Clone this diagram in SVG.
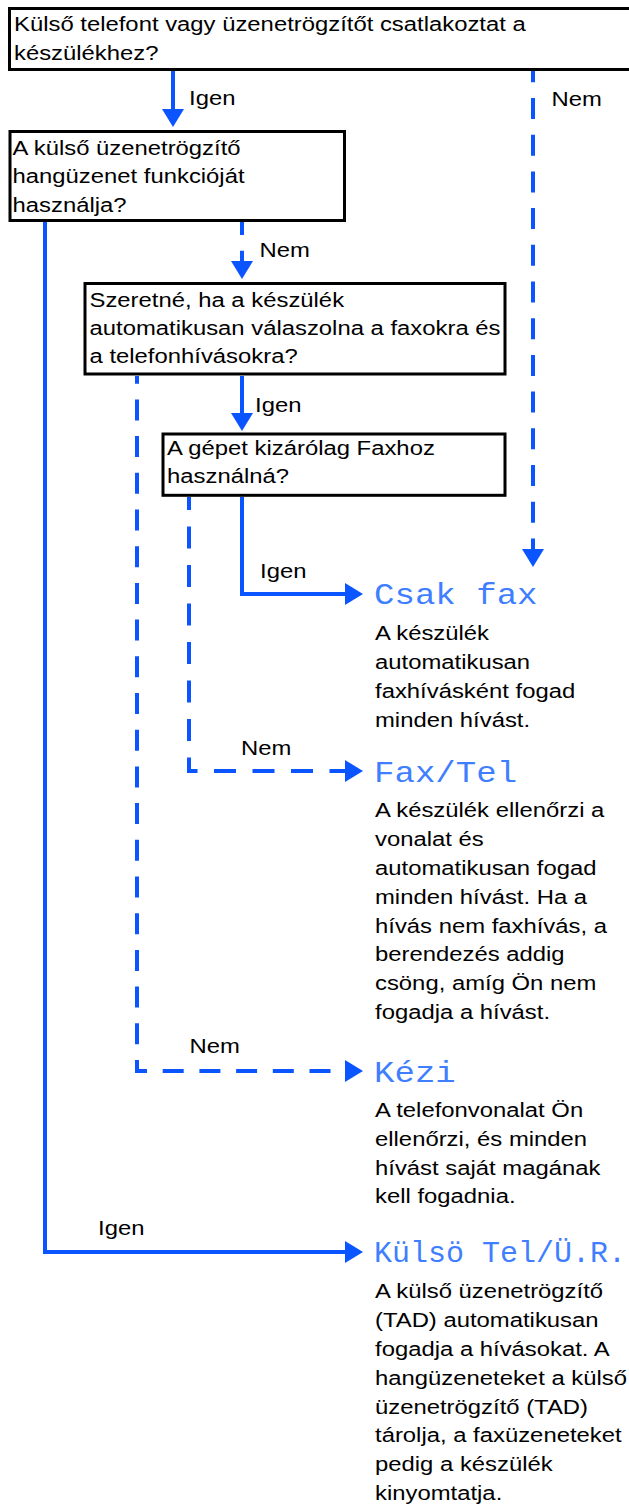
<svg xmlns="http://www.w3.org/2000/svg" width="629" height="1506" viewBox="0 0 629 1506">
<style>
.box{fill:#fff;stroke:#000;stroke-width:3}
.t{font-family:"Liberation Sans",Arial,Helvetica,sans-serif;font-size:21px;fill:#000}
.m{font-family:"Liberation Mono","Courier New",monospace;font-size:30px;fill:#3f7fff}
.c{fill:none;stroke:#0a55ff;stroke-width:4}
.d1{stroke-dasharray:21 15.7}
.d2{stroke-dasharray:22 16.5}
</style>
<defs>
<marker id="ah" markerUnits="userSpaceOnUse" markerWidth="18" markerHeight="22" viewBox="0 0 18 22" refX="0" refY="11" orient="auto">
<path d="M0,0 L18,11 L0,22 Z" fill="#0a55ff"/>
</marker>
</defs>
<rect width="629" height="1506" fill="#fff"/>
<g id="connectors">
<path class="c" d="M173 71 V109" marker-end="url(#ah)"/>
<path class="c d1" d="M533 71 V549" stroke-dashoffset="9.7" marker-end="url(#ah)"/>
<path class="c d1" d="M242 222 V261" stroke-dashoffset="8" marker-end="url(#ah)"/>
<path class="c" d="M45 222 V1252 H345" marker-end="url(#ah)"/>
<path class="c d1" d="M137 376 V1071 H345" stroke-dashoffset="13.3" marker-end="url(#ah)"/>
<path class="c" d="M242 376 V413" marker-end="url(#ah)"/>
<path class="c d2" d="M189 497 V771 H345" stroke-dashoffset="9" marker-end="url(#ah)"/>
<path class="c" d="M242 497 V594 H345" marker-end="url(#ah)"/>
</g>
<g id="labels">
<text class="t" transform="matrix(1.136 0 0 1 189 0)" y="105">Igen</text>
<text class="t" transform="matrix(1.136 0 0 1 551.5 0)" y="106">Nem</text>
<text class="t" transform="matrix(1.136 0 0 1 259.5 0)" y="256.7">Nem</text>
<text class="t" transform="matrix(1.136 0 0 1 255 0)" y="411.7">Igen</text>
<text class="t" transform="matrix(1.136 0 0 1 260 0)" y="577.7">Igen</text>
<text class="t" transform="matrix(1.136 0 0 1 241 0)" y="755">Nem</text>
<text class="t" transform="matrix(1.136 0 0 1 189.5 0)" y="1053">Nem</text>
<text class="t" transform="matrix(1.136 0 0 1 98 0)" y="1235">Igen</text>
</g>
<g id="q1">
<rect class="box" x="9.5" y="8.5" width="630" height="61"/>
<text class="t" transform="matrix(1.136 0 0 1 14 0)"><tspan x="0" y="30.7">Külső telefont vagy üzenetrögzítőt csatlakoztat a</tspan><tspan x="0" y="60">készülékhez?</tspan></text>
</g>
<g id="q2">
<rect class="box" x="10" y="131.5" width="334.5" height="89"/>
<text class="t" transform="matrix(1.136 0 0 1 12.5 0)"><tspan x="0" y="155">A külső üzenetrögzítő</tspan><tspan x="0" y="183.3">hangüzenet funkcióját</tspan><tspan x="0" y="211.7">használja?</tspan></text>
</g>
<g id="q3">
<rect class="box" x="85" y="283.5" width="420" height="90.5"/>
<text class="t" transform="matrix(1.136 0 0 1 89.5 0)"><tspan x="0" y="306.7">Szeretné, ha a készülék</tspan><tspan x="0" y="335">automatikusan válaszolna a faxokra és</tspan><tspan x="0" y="363.3">a telefonhívásokra?</tspan></text>
</g>
<g id="q4">
<rect class="box" x="163" y="434" width="342" height="61.3"/>
<text class="t" transform="matrix(1.136 0 0 1 167 0)"><tspan x="0" y="455">A gépet kizárólag Faxhoz</tspan><tspan x="0" y="483.3">használná?</tspan></text>
</g>
<g id="r-csakfax">
<text class="m" transform="matrix(1.136 0 0 1 374 0)" y="604">Csak fax</text>
<text class="t" transform="matrix(1.136 0 0 1 375 0)"><tspan x="0" y="640">A készülék</tspan><tspan x="0" y="669">automatikusan</tspan><tspan x="0" y="698">faxhívásként fogad</tspan><tspan x="0" y="727">minden hívást.</tspan></text>
</g>
<g id="r-faxtel">
<text class="m" transform="matrix(1.136 0 0 1 374 0)" y="782">Fax/Tel</text>
<text class="t" transform="matrix(1.136 0 0 1 375 0)"><tspan x="0" y="817">A készülék ellenőrzi a</tspan><tspan x="0" y="846">vonalat és</tspan><tspan x="0" y="875">automatikusan fogad</tspan><tspan x="0" y="904">minden hívást. Ha a</tspan><tspan x="0" y="933">hívás nem faxhívás, a</tspan><tspan x="0" y="961">berendezés addig</tspan><tspan x="0" y="990">csöng, amíg Ön nem</tspan><tspan x="0" y="1019">fogadja a hívást.</tspan></text>
</g>
<g id="r-kezi">
<text class="m" transform="matrix(1.136 0 0 1 374 0)" y="1082">Kézi</text>
<text class="t" transform="matrix(1.136 0 0 1 375 0)"><tspan x="0" y="1117">A telefonvonalat Ön</tspan><tspan x="0" y="1146">ellenőrzi, és minden</tspan><tspan x="0" y="1175">hívást saját magának</tspan><tspan x="0" y="1203">kell fogadnia.</tspan></text>
</g>
<g id="r-kulso">
<text class="m" x="374" y="1262">Külsö Tel/Ü.R.</text>
<text class="t" transform="matrix(1.136 0 0 1 375 0)"><tspan x="0" y="1298">A külső üzenetrögzítő</tspan><tspan x="0" y="1327">(TAD) automatikusan</tspan><tspan x="0" y="1356">fogadja a hívásokat. A</tspan><tspan x="0" y="1385">hangüzeneteket a külső</tspan><tspan x="0" y="1414">üzenetrögzítő (TAD)</tspan><tspan x="0" y="1442">tárolja, a faxüzeneteket</tspan><tspan x="0" y="1471">pedig a készülék</tspan><tspan x="0" y="1500">kinyomtatja.</tspan></text>
</g>
</svg>
